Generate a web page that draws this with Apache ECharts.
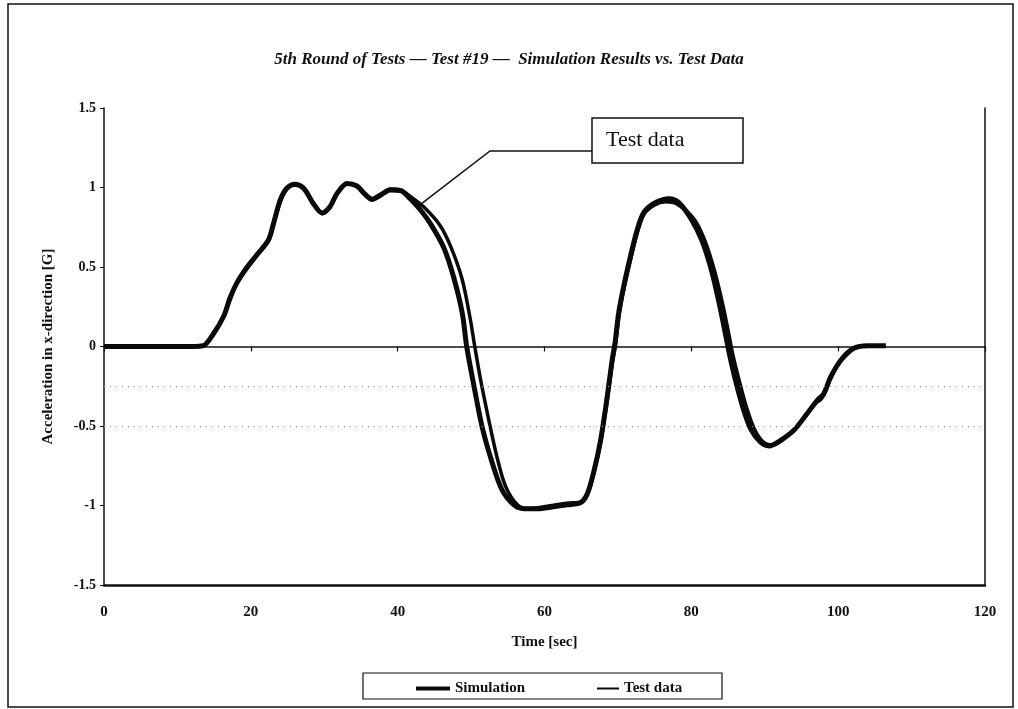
<!DOCTYPE html>
<html>
<head>
<meta charset="utf-8">
<script src="https://cdn.jsdelivr.net/npm/echarts@6/dist/echarts.min.js"></script>
<style>
  html, body { margin: 0; padding: 0; background: #fff; }
  #chart { width: 1018px; height: 709px; }
</style>
</head>
<body>
<div id="chart"></div>
<script>
// Test #19, x-direction acceleration [G] versus time [sec]
const simTime = [0, 2, 4, 6, 8, 10, 12, 13.5, 14.9, 16.3, 17.2, 18.1, 19.5, 20.8, 22.4, 23.1, 24.0, 24.9, 26.0, 27.2, 28.5, 29.7, 30.8, 31.7, 33.1, 34.4, 35.6, 36.5, 37.6, 39.0, 40.4, 41.7, 43.0, 44.5, 46.3, 47.6, 48.8, 49.4, 50.4, 51.5, 52.9, 54.2, 55.8, 57.2, 59.0, 61.0, 63.0, 64.8, 65.8, 66.7, 67.6, 68.5, 69.2, 69.6, 70.1, 70.8, 71.7, 72.6, 73.5, 74.9, 77.0, 78.3, 80.0, 81.5, 82.8, 83.8, 84.6, 85.2, 86.0, 87.0, 88.1, 89.4, 90.6, 92.0, 94.0, 95.8, 97.2, 98.0, 99.0, 100.4, 102.2, 104.0, 106.5];
const simAccel = [0, 0, 0, 0, 0, 0, 0, 0.005, 0.08, 0.19, 0.31, 0.40, 0.50, 0.575, 0.67, 0.775, 0.92, 0.995, 1.02, 0.995, 0.90, 0.84, 0.88, 0.96, 1.025, 1.01, 0.955, 0.925, 0.95, 0.985, 0.98, 0.93, 0.865, 0.77, 0.62, 0.44, 0.21, 0.0, -0.25, -0.505, -0.735, -0.90, -0.995, -1.02, -1.02, -1.01, -0.995, -0.985, -0.93, -0.79, -0.60, -0.33, -0.09, 0.02, 0.21, 0.38, 0.565, 0.73, 0.84, 0.90, 0.93, 0.905, 0.80, 0.66, 0.47, 0.27, 0.09, -0.05, -0.21, -0.38, -0.52, -0.60, -0.625, -0.595, -0.525, -0.42, -0.335, -0.30, -0.19, -0.085, -0.01, 0.005, 0.005];

const testTime = [0, 2, 4, 6, 8, 10, 12, 13.5, 14.9, 16.3, 17.2, 18.1, 19.5, 20.8, 22.4, 23.1, 24.0, 24.9, 26.0, 27.2, 28.5, 29.7, 30.8, 31.7, 33.1, 34.4, 35.6, 36.5, 37.6, 39.0, 40.4, 41.7, 43.5, 45.8, 47.3, 48.8, 49.9, 50.5, 51.3, 52.4, 53.5, 54.7, 56.3, 57.8, 59.0, 61.0, 63.0, 64.9, 65.9, 66.8, 67.7, 68.6, 69.3, 69.7, 70.2, 70.9, 71.8, 72.7, 73.6, 75.0, 76.5, 78.1, 80.4, 81.9, 83.2, 84.3, 85.1, 85.7, 86.5, 87.5, 88.6, 89.9, 91.1, 92.5, 94.3, 96.0, 96.9, 97.5, 98.1, 98.9, 100.2, 102.0, 104.0, 106.3];
const testAccel = [0, 0, 0, 0, 0, 0, 0, 0.005, 0.075, 0.19, 0.30, 0.40, 0.49, 0.57, 0.665, 0.77, 0.91, 0.99, 1.015, 0.99, 0.905, 0.835, 0.875, 0.955, 1.02, 1.015, 0.96, 0.93, 0.955, 0.99, 0.985, 0.945, 0.88, 0.76, 0.62, 0.42, 0.17, 0.0, -0.21, -0.46, -0.69, -0.88, -0.995, -1.02, -1.015, -1.0, -0.985, -0.98, -0.92, -0.78, -0.59, -0.32, -0.085, 0.02, 0.21, 0.38, 0.56, 0.725, 0.835, 0.89, 0.91, 0.895, 0.80, 0.66, 0.47, 0.26, 0.08, -0.06, -0.21, -0.38, -0.52, -0.605, -0.62, -0.585, -0.51, -0.41, -0.355, -0.34, -0.30, -0.21, -0.09, -0.01, 0.005, 0.005];

const timeTicks = { min: 0, max: 120, step: 20 };
const accelTicks = { min: -1.5, max: 1.5, step: 0.5 };
const faintLevels = [-0.25, -0.5];

const titleText = '5th Round of Tests \u2014 Test #19 \u2014  Simulation Results vs. Test Data';
const xName = 'Time [sec]';
const yName = 'Acceleration in x-direction [G]';
const calloutText = 'Test data';
const calloutAt = [43.3, 0.9];

const pairs = (xs, ys) => xs.map((x, i) => [x, ys[i]]);
const serif = '"Liberation Serif", "Times New Roman", serif';

const chart = echarts.init(document.getElementById('chart'), null, { renderer: 'canvas' });

const baseX = {
  type: 'value', min: timeTicks.min, max: timeTicks.max, interval: timeTicks.step,
  splitLine: { show: false }
};

const legendText = { fontFamily: serif, fontSize: 15, fontWeight: 'bold', color: '#111' };

chart.setOption({
  animation: false,
  backgroundColor: '#fff',
  title: {
    text: titleText, left: 'center', top: 46,
    textStyle: { fontFamily: serif, fontSize: 17, fontWeight: 'bold', fontStyle: 'italic', color: '#111' }
  },
  grid: { left: 104, right: 33, top: 108, bottom: 124 },
  legend: [
    {
      data: [{ name: 'Simulation', icon: 'rect' }],
      left: 411, top: 676, itemWidth: 34, itemHeight: 4, itemGap: 4,
      textStyle: legendText
    },
    {
      data: [{ name: 'Test data', icon: 'rect' }],
      left: 592, top: 676, itemWidth: 22, itemHeight: 2, itemGap: 4,
      textStyle: legendText
    }
  ],
  xAxis: [
    Object.assign({}, baseX, {
      position: 'bottom',
      name: xName, nameLocation: 'middle', nameGap: 50,
      nameTextStyle: { fontFamily: serif, fontSize: 15, fontWeight: 'bold', color: '#111' },
      axisLine: { onZero: false, lineStyle: { color: '#111', width: 2.5 } },
      axisTick: { show: false },
      axisLabel: { margin: 20, fontFamily: serif, fontSize: 15, fontWeight: 'bold', color: '#111' }
    }),
    Object.assign({}, baseX, {
      position: 'bottom',
      axisLine: { onZero: true, onZeroAxisIndex: 0, lineStyle: { color: '#111', width: 1.5 } },
      axisTick: { show: true, length: 5, lineStyle: { color: '#111', width: 1.2 } },
      axisLabel: { show: false }
    })
  ],
  yAxis: [
    {
      type: 'value', position: 'left',
      min: accelTicks.min, max: accelTicks.max, interval: accelTicks.step,
      name: yName, nameLocation: 'middle', nameGap: 48, nameRotate: 90,
      nameTextStyle: { fontFamily: serif, fontSize: 15, fontWeight: 'bold', color: '#111' },
      axisLine: { show: true, onZero: false, lineStyle: { color: '#111', width: 1.5 } },
      axisTick: { show: true, length: 4, lineStyle: { color: '#111' } },
      axisLabel: { margin: 8, fontFamily: serif, fontSize: 14, fontWeight: 'bold', color: '#111' },
      splitLine: { show: false }
    },
    {
      type: 'value', position: 'right',
      min: accelTicks.min, max: accelTicks.max, interval: accelTicks.step,
      axisLine: { show: true, onZero: false, lineStyle: { color: '#111', width: 1.5 } },
      axisTick: { show: false }, axisLabel: { show: false }, splitLine: { show: false }
    }
  ],
  series: [
    {
      name: 'Simulation', type: 'line', data: pairs(simTime, simAccel),
      showSymbol: false, symbol: 'none', smooth: 0.3,
      lineStyle: { color: '#0a0a0a', width: 5 }, itemStyle: { color: '#0a0a0a' },
      z: 3,
      markLine: {
        silent: true, symbol: 'none', label: { show: false },
        lineStyle: { color: '#9a9a9a', type: [1, 5], width: 1 },
        data: faintLevels.map(v => ({ yAxis: v }))
      }
    },
    {
      name: 'Test data', type: 'line', data: pairs(testTime, testAccel),
      showSymbol: false, symbol: 'none', smooth: 0.3,
      lineStyle: { color: '#0a0a0a', width: 3.5 }, itemStyle: { color: '#0a0a0a' },
      z: 4
    }
  ]
});

// Callout box with its leader line to the test curve, plus the outer frame and legend box
const tip = chart.convertToPixel({ xAxisIndex: 0, yAxisIndex: 0 }, calloutAt);
const box = { x: 592, y: 118, w: 151, h: 45 };
chart.setOption({
  graphic: [
    { type: 'rect', shape: { x: 8, y: 4, width: 1005, height: 703 }, style: { fill: 'none', stroke: '#111', lineWidth: 1.5 }, silent: true, z: 0 },
    { type: 'rect', shape: { x: 363, y: 673, width: 359, height: 26 }, style: { fill: 'none', stroke: '#111', lineWidth: 1.2 }, silent: true, z: 0 },
    { type: 'polyline', shape: { points: [tip, [490, 151], [box.x, 151]] }, style: { fill: 'none', stroke: '#111', lineWidth: 1.5 }, silent: true, z: 10 },
    { type: 'rect', shape: { x: box.x, y: box.y, width: box.w, height: box.h }, style: { fill: '#fff', stroke: '#111', lineWidth: 1.5 }, silent: true, z: 10 },
    { type: 'text', x: box.x + 14, y: box.y + 22, style: { text: calloutText, fontFamily: serif, fontSize: 22, fill: '#111', verticalAlign: 'middle' }, silent: true, z: 11 }
  ]
});
</script>
</body>
</html>
